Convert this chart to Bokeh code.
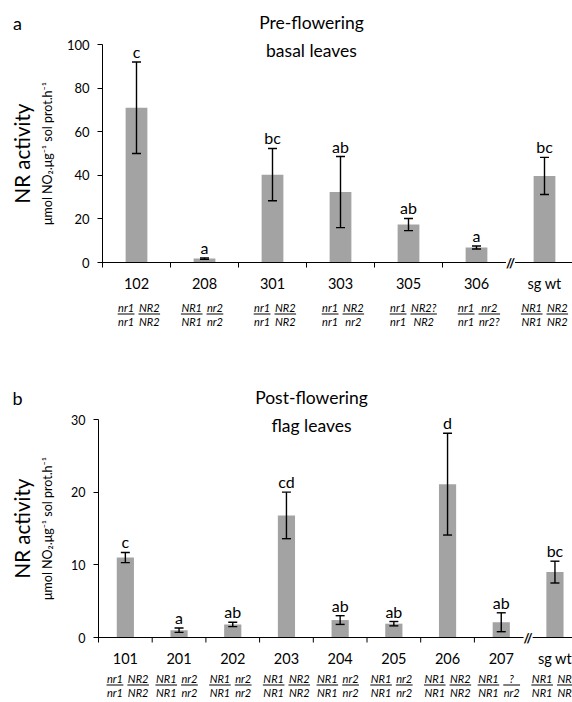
import math
from bokeh.plotting import figure
from bokeh.models import (ColumnDataSource, Range1d, FixedTicker,
                          Whisker, TeeHead, LabelSet, Label, Span)
from bokeh.layouts import column, row
from bokeh.core.properties import value
from bokeh.embed import file_html
from bokeh.resources import INLINE

FONT = "Lato"

# ---- panel a : pre-flowering basal leaves ----
a_lines = ["102", "208", "301", "303", "305", "306", "sg wt"]
a_mean = [71.0, 1.8, 40.3, 32.3, 17.4, 6.9, 39.7]
a_err = [21.0, 0.3, 12.0, 16.3, 2.8, 0.7, 8.5]
a_letters = ["c", "a", "bc", "ab", "ab", "a", "bc"]
a_nr1_top = ["nr1", "NR1", "nr1", "nr1", "nr1", "nr1", "NR1"]
a_nr1_bot = ["nr1", "NR1", "nr1", "nr1", "nr1", "nr1", "NR1"]
a_nr2_top = ["NR2", "nr2", "NR2", "NR2", "NR2?", "nr2", "NR2"]
a_nr2_bot = ["NR2", "nr2", "NR2", "nr2", "NR2", "nr2?", "NR2"]
a_yticks = [0, 20, 40, 60, 80, 100]

# ---- panel b : post-flowering flag leaves ----
b_lines = ["101", "201", "202", "203", "204", "205", "206", "207", "sg wt"]
b_mean = [11.0, 1.0, 1.8, 16.8, 2.4, 1.9, 21.1, 2.1, 9.0]
b_err = [0.7, 0.3, 0.3, 3.2, 0.6, 0.3, 7.0, 1.3, 1.5]
b_letters = ["c", "a", "ab", "cd", "ab", "ab", "d", "ab", "bc"]
b_nr1_top = ["nr1", "NR1", "NR1", "NR1", "NR1", "NR1", "NR1", "NR1", "NR1"]
b_nr1_bot = ["nr1", "NR1", "NR1", "NR1", "NR1", "NR1", "NR1", "NR1", "NR1"]
b_nr2_top = ["NR2", "nr2", "nr2", "NR2", "nr2", "nr2", "NR2", "?", "NR2"]
b_nr2_bot = ["NR2", "nr2", "nr2", "NR2", "nr2", "nr2", "NR2", "nr2", "NR2"]
b_yticks = [0, 10, 20, 30]

Y_TITLE = "NR activity"
UNIT = "\u03bcmol NO\u2082.\u03bcg\u207b\u00b9 sol prot.h\u207b\u00b9"

CW = {'n': 6.0, 'r': 4.0, '1': 5.8, '2': 5.8, 'N': 8.0, 'R': 6.8, '?': 4.8}
W = 572
LEFT_W = 55
TITLE_X = 311


def tw(s):
    return sum(CW.get(c, 6.0) for c in s)


def blank(width, height):
    f = figure(width=width, height=height, x_range=Range1d(0, width),
               y_range=Range1d(height, 0), output_backend="svg",
               toolbar_location=None, title=None,
               x_axis_location=None, y_axis_location=None,
               min_border_left=0, min_border_right=0,
               min_border_top=0, min_border_bottom=0)
    f.frame_align = False
    f.outline_line_color = None
    f.xgrid.visible = False
    f.ygrid.visible = False
    return f


def header(letter, title, height, text_y):
    h = blank(W, height)
    h.add_layout(Label(x=17, y=text_y, text=letter, text_align="center",
                       text_baseline="middle", text_font=FONT,
                       text_font_size="18px", text_color="black"))
    h.add_layout(Label(x=TITLE_X, y=text_y, text=title, text_align="center",
                       text_baseline="middle", text_font=FONT,
                       text_font_size="17.5px", text_color="black"))
    return h


def side(height, mid_y):
    s = blank(LEFT_W, height)
    s.add_layout(Label(x=21, y=mid_y, text=Y_TITLE, angle=math.pi / 2,
                       text_align="center", text_baseline="middle",
                       text_font=FONT, text_font_size="20.5px",
                       text_color="black"))
    s.add_layout(Label(x=47, y=mid_y, text=UNIT, angle=math.pi / 2,
                       text_align="center", text_baseline="middle",
                       text_font=FONT, text_font_size="12.5px",
                       text_color="black"))
    return s


def chart(names, mean, err, letters, n1t, n1b, n2t, n2b, yticks, title2,
          height, frame_left, top_gap, zero_px, slot, tick_fs, geno_off):
    """frame_left: page x of the y axis; top_gap / zero_px: px from figure top
    to the ymax line / to y = 0"""
    n = len(names)
    ymax = yticks[-1]
    ppu = (zero_px - top_gap) / ymax
    y_hi = ymax + top_gap / ppu
    y_lo = -(height - zero_px) / ppu
    xs = list(range(1, n + 1))
    frame_w = W - frame_left
    p = figure(width=W - LEFT_W, height=height,
               x_range=Range1d(0.5, 0.5 + frame_w / slot),
               y_range=Range1d(y_lo, y_hi),
               output_backend="svg", toolbar_location=None, title=None,
               x_axis_location=None,
               min_border_left=frame_left - LEFT_W, min_border_right=0,
               min_border_top=0, min_border_bottom=0)
    p.frame_align = False
    p.outline_line_color = None
    p.xgrid.visible = False
    p.ygrid.visible = False

    gap = 4.0
    w1 = [max(tw(a), tw(b)) + 1 for a, b in zip(n1t, n1b)]
    w2 = [max(tw(a), tw(b)) + 1 for a, b in zip(n2t, n2b)]
    c1 = [x - (gap / 2 + w / 2) / slot for x, w in zip(xs, w1)]
    c2 = [x + (gap / 2 + w / 2) / slot for x, w in zip(xs, w2)]
    src = ColumnDataSource(dict(
        x=xs, mean=mean,
        upper=[m + e for m, e in zip(mean, err)],
        lower=[m - e for m, e in zip(mean, err)],
        letter=letters, name=names, base=[0] * n,
        c1=c1, c2=c2, n1t=n1t, n1b=n1b, n2t=n2t, n2b=n2b,
        u1a=[c - w / 2 / slot for c, w in zip(c1, w1)],
        u1b=[c + w / 2 / slot for c, w in zip(c1, w1)],
        u2a=[c - w / 2 / slot for c, w in zip(c2, w2)],
        u2b=[c + w / 2 / slot for c, w in zip(c2, w2)],
        uy=[-geno_off[1] / ppu] * n,
    ))

    p.vbar(x="x", top="mean", width=0.32, source=src,
           fill_color="#a3a3a3", line_color=None)
    p.add_layout(Whisker(base="x", upper="upper", lower="lower", source=src,
                         line_color="black", line_width=1.4, level="overlay",
                         upper_head=TeeHead(size=9, line_width=1.4, line_color="black"),
                         lower_head=TeeHead(size=9, line_width=1.4, line_color="black")))
    p.add_layout(LabelSet(x="x", y="upper", text="letter", source=src,
                          text_align="center", text_baseline="bottom",
                          y_offset=1, text_font=value(FONT),
                          text_font_size="16px", text_color="black"))

    # x axis line, ticks between categories and axis break
    p.add_layout(Span(location=0, dimension="width", line_color="black",
                      line_width=1))
    bounds = [i + 0.5 for i in range(1, n - 1)]
    tsrc = ColumnDataSource(dict(b=bounds, y0=[0] * len(bounds),
                                 y1=[-5 / ppu] * len(bounds)))
    p.segment(x0="b", y0="y0", x1="b", y1="y1", source=tsrc,
              line_color="black", line_width=1)
    p.add_layout(Label(x=n - 0.5, y=0, text="//", text_align="center",
                       text_baseline="middle", text_font=FONT,
                       text_font_size="13px", text_font_style="bold",
                       background_fill_color="white", text_color="black"))

    # category names and genotype fractions
    p.add_layout(LabelSet(x="x", y="base", text="name", source=src,
                          text_align="center", text_baseline="middle",
                          y_offset=-21, text_font=value(FONT),
                          text_font_size="14.5px", text_color="black"))
    for cx, tcol, off in (("c1", "n1t", geno_off[0]), ("c2", "n2t", geno_off[0]),
                          ("c1", "n1b", geno_off[2]), ("c2", "n2b", geno_off[2])):
        p.add_layout(LabelSet(x=cx, y="base", text=tcol, source=src,
                              text_align="center", text_baseline="middle",
                              y_offset=-off, text_font=value(FONT),
                              text_font_size="11px", text_font_style="italic",
                              text_color="black"))
    for a, b in (("u1a", "u1b"), ("u2a", "u2b")):
        p.segment(x0=a, y0="uy", x1=b, y1="uy", source=src,
                  line_color="black", line_width=1)

    # y axis
    ya = p.yaxis[0]
    ya.ticker = FixedTicker(ticks=yticks)
    ya.bounds = (-5 / ppu, ymax)
    ya.major_tick_in = 0
    ya.major_tick_out = 5
    ya.major_label_standoff = 8
    ya.major_label_text_font = FONT
    ya.major_label_text_font_size = tick_fs
    ya.major_label_text_color = "black"
    ya.axis_line_color = "black"
    ya.major_tick_line_color = "black"

    # second title line sits inside the plot area
    p.add_layout(Label(x=0.5 + (TITLE_X - frame_left) / slot, y=ymax,
                       y_offset=-6, text=title2, text_align="center",
                       text_baseline="middle", text_font=FONT,
                       text_font_size="17.5px", text_color="black"))
    return p


# page layout (no page margin): header a 0-36, chart a 36-335,
# header b 335-411, chart b 411-700
ha = header("a", "Pre-flowering", 36, 22)
pa = chart(a_lines, a_mean, a_err, a_letters, a_nr1_top, a_nr1_bot,
           a_nr2_top, a_nr2_bot, a_yticks, "basal leaves",
           height=299, frame_left=102, top_gap=8, zero_px=226, slot=68,
           tick_fs="13px", geno_off=(45, 51.5, 59))
sa = side(299, (8 + 226) / 2)
hb = header("b", "Post-flowering", 76, 62)
pb = chart(b_lines, b_mean, b_err, b_letters, b_nr1_top, b_nr1_bot,
           b_nr2_top, b_nr2_bot, b_yticks, "flag leaves",
           height=289, frame_left=98, top_gap=8, zero_px=226, slot=53.7,
           tick_fs="12.5px", geno_off=(40.5, 47.5, 55))
sb = side(289, (8 + 226) / 2)

layout = column(ha, row(sa, pa, spacing=0), hb, row(sb, pb, spacing=0),
                spacing=0)
open("out.html", "w").write(file_html(layout, INLINE))
